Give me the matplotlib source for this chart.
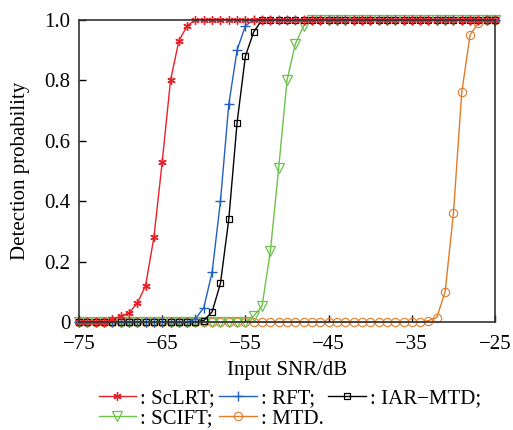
import numpy as np
import matplotlib
matplotlib.use('Agg')
import matplotlib.pyplot as plt

# SNR de entrada (dB)
snr = np.arange(-75, -24)

sclrt = [0, 0, 0, 0, 0.009, 0.02, 0.03, 0.062, 0.12, 0.28,
         0.53, 0.80, 0.93, 0.98, 1, 1, 1, 1, 1, 1,
         1, 1, 1, 1, 1, 1, 1, 1, 1, 1,
         1, 1, 1, 1, 1, 1, 1, 1, 1, 1,
         1, 1, 1, 1, 1, 1, 1, 1, 1, 1, 1]
rft = [0, 0, 0, 0, 0, 0, 0, 0, 0, 0,
       0, 0, 0, 0, 0.011, 0.048, 0.165, 0.40, 0.72, 0.90,
       0.98, 1, 1, 1, 1, 1, 1, 1, 1, 1,
       1, 1, 1, 1, 1, 1, 1, 1, 1, 1,
       1, 1, 1, 1, 1, 1, 1, 1, 1, 1, 1]
iar_mtd = [0, 0, 0, 0, 0, 0, 0, 0, 0, 0,
           0, 0, 0, 0, 0, 0.005, 0.034, 0.128, 0.34, 0.66,
           0.88, 0.96, 1, 1, 1, 1, 1, 1, 1, 1,
           1, 1, 1, 1, 1, 1, 1, 1, 1, 1,
           1, 1, 1, 1, 1, 1, 1, 1, 1, 1, 1]
scift = [0, 0, 0, 0, 0, 0, 0, 0, 0, 0,
         0, 0, 0, 0, 0, 0, 0, 0, 0, 0,
         0, 0.02, 0.053, 0.235, 0.51, 0.80, 0.92, 0.98, 1, 1,
         1, 1, 1, 1, 1, 1, 1, 1, 1, 1,
         1, 1, 1, 1, 1, 1, 1, 1, 1, 1, 1]
mtd = [0, 0, 0, 0, 0, 0, 0, 0, 0, 0,
       0, 0, 0, 0, 0, 0, 0, 0, 0, 0,
       0, 0, 0, 0, 0, 0, 0, 0, 0, 0,
       0, 0, 0, 0, 0, 0, 0, 0, 0, 0,
       0, 0, 0.005, 0.015, 0.10, 0.36, 0.76, 0.95, 0.99, 1, 1]

xticks = [-75, -65, -55, -45, -35, -25]
yticks = [0, 0.2, 0.4, 0.6, 0.8, 1.0]
ytick_labels = ['0', '0.2', '0.4', '0.6', '0.8', '1.0']

plt.rcParams['font.family'] = ['Liberation Serif', 'DejaVu Serif']
plt.rcParams['font.size'] = 15

fig = plt.figure(figsize=(5.13, 4.3), dpi=100)
ax = fig.add_axes([0.154, 0.251, 0.811, 0.703])

estilo = dict(lw=1.0, clip_on=False)
h_mtd, = ax.plot(snr, mtd, color='#e07b2a', marker='o', ms=6, mfc='none', mew=0.8, **estilo)
h_scift, = ax.plot(snr, scift, color='#6cc24a', marker='v', ms=7, mfc='none', mew=0.9, **estilo)
h_iar, = ax.plot(snr, iar_mtd, color='black', marker='s', ms=5, mfc='none', mew=0.9, **estilo)
h_rft, = ax.plot(snr, rft, color='#2060c0', marker='+', ms=7, mew=1.0, **estilo)
h_sclrt, = ax.plot(snr, sclrt, color='#e8202a', marker=(6, 2, 0), ms=6, mew=1.0, **estilo)

ax.set_xlim(-75, -25)
ax.set_ylim(0, 1)
ax.set_xticks(xticks)
ax.set_xticklabels([f'\u2212{abs(t)}' for t in xticks])
ax.set_yticks(yticks)
ax.set_yticklabels(ytick_labels)
ax.tick_params(direction='in', length=5, width=1, labelsize=15)
ax.tick_params(axis='x', pad=9)
ax.tick_params(axis='y', pad=6)
for s in ax.spines.values():
    s.set_linewidth(1.2)
    s.set_color('#333333')

ax.set_xlabel('Input SNR/dB', fontsize=15, labelpad=5)
ax.set_ylabel('Detection probability', fontsize=15)
ax.yaxis.set_label_coords(-0.118, 0.5)

# Ordem dos itens para preencher duas linhas
handles = [h_sclrt, h_scift, h_rft, h_mtd, h_iar]
labels = [': ScLRT;', ': SCIFT;', ': RFT;', ': MTD.', ': IAR\u2212MTD;']
fig.legend(handles, labels, loc='center', bbox_to_anchor=(0.565, 0.05), ncol=3,
           frameon=False, handlelength=1.8, handletextpad=0.2, columnspacing=0.2,
           labelspacing=0.05, fontsize=15, numpoints=1, borderaxespad=0)

fig.savefig('out.png', dpi=100)
